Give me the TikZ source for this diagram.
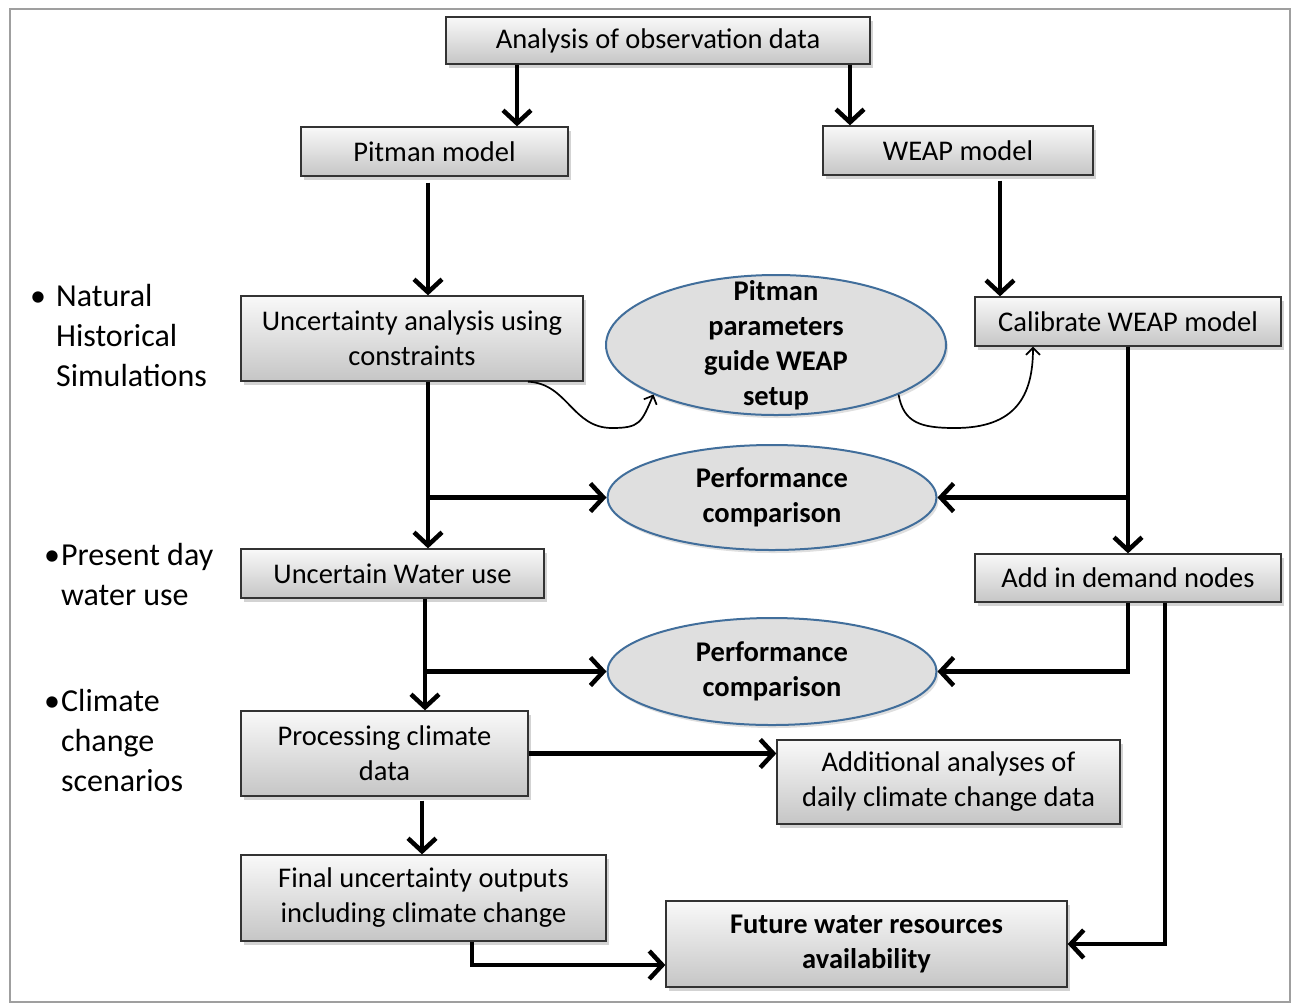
\documentclass[tikz,border=0pt]{standalone}
\usepackage{fontspec}
\setmainfont{Carlito}
\usetikzlibrary{shapes.geometric,arrows.meta,shadows}
\definecolor{ovalline}{RGB}{65,110,155}
\tikzset{
    box/.style={draw=black!80, line width=1.3pt, top color=gray!5, bottom color=gray!45,
        drop shadow={shadow xshift=3pt, shadow yshift=-4pt, opacity=0.35},
        align=center, inner sep=0pt, font=\fontsize{28.5}{35}\selectfont},
    oval/.style={ellipse, draw=ovalline, line width=2pt, fill=gray!25,
        drop shadow={shadow xshift=2pt, shadow yshift=-3pt, opacity=0.25},
        align=center, inner sep=0pt, font=\fontsize{28.5}{35}\selectfont\bfseries},
    side/.style={anchor=west, align=left, inner sep=0pt, font=\fontsize{32}{40}\selectfont},
    flow/.style={line width=4.5pt, -{Straight Barb[length=13pt,width=28pt]}},
    thinflow/.style={line width=1.7pt, -{Straight Barb[length=7pt,width=14pt]}}
}
\begin{document}
\begin{tikzpicture}[x=1pt,y=-1pt]
    \useasboundingbox (0,0) rectangle (1297,1005);
    \draw[gray!75, line width=2pt] (10,9) rectangle (1290,1002);

    \node[box, minimum width=424pt, minimum height=47pt] (obs) at (658,40.5) {Analysis of observation data};
    \node[box, minimum width=267pt, minimum height=49pt] (pitman) at (434.5,151.5) {Pitman model};
    \node[box, minimum width=270pt, minimum height=49pt] (weap) at (958,150.5) {WEAP model};
    \node[box, minimum width=342pt, minimum height=85pt] (unc) at (412,338.5) {Uncertainty analysis using\\constraints};
    \node[box, minimum width=306pt, minimum height=49pt] (calib) at (1128,321.5) {Calibrate WEAP model};
    \node[box, minimum width=303pt, minimum height=49pt] (uwu) at (392.5,573.5) {Uncertain Water use};
    \node[box, minimum width=306pt, minimum height=48pt] (adn) at (1128,578) {Add in demand nodes};
    \node[box, minimum width=287pt, minimum height=85pt] (pcd) at (384.5,753.5) {Processing climate\\data};
    \node[box, minimum width=343pt, minimum height=84pt] (add) at (948.5,782) {Additional analyses of\\daily climate change data};
    \node[box, minimum width=365pt, minimum height=86pt] (fin) at (423.5,898) {Final uncertainty outputs\\including climate change};
    \node[box, minimum width=401pt, minimum height=86pt, font=\fontsize{28.5}{35}\selectfont\bfseries] (fut) at (866.5,944) {Future water resources\\availability};

    \node[oval, minimum width=340pt, minimum height=140pt,
        label={[align=center, font=\fontsize{28.5}{35}\selectfont\bfseries]center:Pitman\\parameters\\guide WEAP\\setup}] (ppg) at (776,345) {};
    \node[oval, minimum width=329pt, minimum height=105pt] (perf1) at (772,497.5) {Performance\\comparison};
    \node[oval, minimum width=329pt, minimum height=107pt] (perf2) at (772,671.5) {Performance\\comparison};

    \node[side] (nat) at (30,338) {\begin{tabular}{@{}l@{\hspace{10pt}}l@{}}•&Natural\\&Historical\\&Simulations\end{tabular}};
    \node[side] (pres) at (44,577) {\begin{tabular}{@{}l@{\hspace{1pt}}l@{}}•&Present day\\&water use\end{tabular}};
    \node[side] (clim) at (44,743) {\begin{tabular}{@{}l@{\hspace{1pt}}l@{}}•&Climate\\&change\\&scenarios\end{tabular}};

    \coordinate (xa) at (517,0);
    \coordinate (xb) at (850,0);
    \coordinate (xc) at (428,0);
    \coordinate (xd) at (1000,0);
    \coordinate (xf) at (425,0);
    \coordinate (xg) at (1165,0);
    \coordinate (xh) at (422,0);
    \coordinate (xi) at (472,0);
    \coordinate (c1) at ([xshift=116pt]unc.south);
    \coordinate (c2) at ([xshift=-95pt]calib.south);
    \coordinate (ca) at (612,428);
    \coordinate (cb) at (955,428);
    \coordinate (fw) at ([yshift=-21pt]fut.west);

    \draw[flow] (obs.south -| xa) -- (pitman.north -| xa);
    \draw[flow] (obs.south -| xb) -- (weap.north -| xb);
    \draw[flow] ([yshift=-6pt]pitman.south -| xc) -- (unc.north -| xc);
    \draw[flow] ([yshift=-5pt]weap.south -| xd) -- (calib.north -| xd);
    \draw[flow] (unc.south -| xc) -- (uwu.north -| xc);
    \draw[flow] (perf1.west -| xc) -- (perf1.west);
    \draw[flow] (calib.south) -- (adn.north);
    \draw[flow] (perf1.east -| calib.south) -- (perf1.east);
    \draw[flow] (uwu.south -| xf) -- (pcd.north -| xf);
    \draw[flow] (perf2.west -| xf) -- (perf2.west);
    \draw[flow] (adn.south) |- (perf2.east);
    \draw[flow] (adn.south -| xg) |- (fut.east);
    \draw[flow] (pcd.east) -- (pcd.east -| add.west);
    \draw[flow] ([yshift=-4pt]pcd.south -| xh) -- (fin.north -| xh);
    \draw[flow] (fin.south -| xi) |- (fw);

    \draw[thinflow] (c1) .. controls +(40,2) and +(-40,0) .. (ca) .. controls +(28,0) and +(-12,28) .. (ppg.202);
    \draw[thinflow] (ppg.338) .. controls +(5,28) and +(-35,0) .. (cb) .. controls +(60,0) and +(0,50) .. (c2);
\end{tikzpicture}
\end{document}
